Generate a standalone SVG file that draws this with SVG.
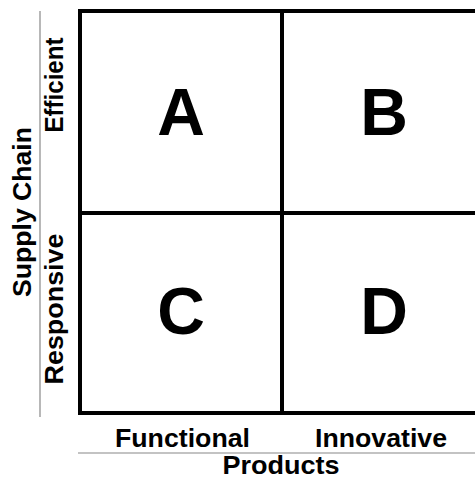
<svg xmlns="http://www.w3.org/2000/svg" width="475" height="482" viewBox="0 0 475 482">
<style>
.lbl{font-family:"Liberation Sans",Arial,sans-serif;font-weight:bold;font-size:25px;fill:#000;text-anchor:middle}
.big{font-family:"Liberation Sans",Arial,sans-serif;font-weight:bold;font-size:66px;fill:#000;text-anchor:middle}
.grid{stroke:#000;stroke-width:4;fill:none}
.axis{stroke:#888;stroke-width:1.2;fill:none}
</style>
<rect width="475" height="482" fill="#fff"/>
<g id="connectors">
<line class="axis" x1="40" y1="11" x2="40" y2="417"/>
<line class="axis" x1="78" y1="453" x2="475" y2="453"/>
</g>
<g id="matrix">
<path class="grid" d="M480 11 H80 V413 H480"/>
<line class="grid" x1="282" y1="11" x2="282" y2="413"/>
<line class="grid" x1="80" y1="213" x2="480" y2="213"/>
</g>
<g id="cellA"><text class="big" x="181" y="135">A</text></g>
<g id="cellB"><text class="big" x="384" y="135">B</text></g>
<g id="cellC"><text class="big" x="181" y="334">C</text></g>
<g id="cellD"><text class="big" x="384" y="334">D</text></g>
<g id="axisY">
<text class="lbl" transform="translate(31,212) rotate(-90)" textLength="170" lengthAdjust="spacingAndGlyphs">Supply Chain</text>
<text class="lbl" transform="translate(63,85) rotate(-90)" textLength="95" lengthAdjust="spacingAndGlyphs">Efficient</text>
<text class="lbl" transform="translate(63,309) rotate(-90)" textLength="151" lengthAdjust="spacingAndGlyphs">Responsive</text>
</g>
<g id="axisX">
<text class="lbl" x="182.5" y="447" textLength="135" lengthAdjust="spacingAndGlyphs">Functional</text>
<text class="lbl" x="381" y="447" textLength="132" lengthAdjust="spacingAndGlyphs">Innovative</text>
<text class="lbl" x="281" y="474" textLength="117" lengthAdjust="spacingAndGlyphs">Products</text>
</g>
</svg>
